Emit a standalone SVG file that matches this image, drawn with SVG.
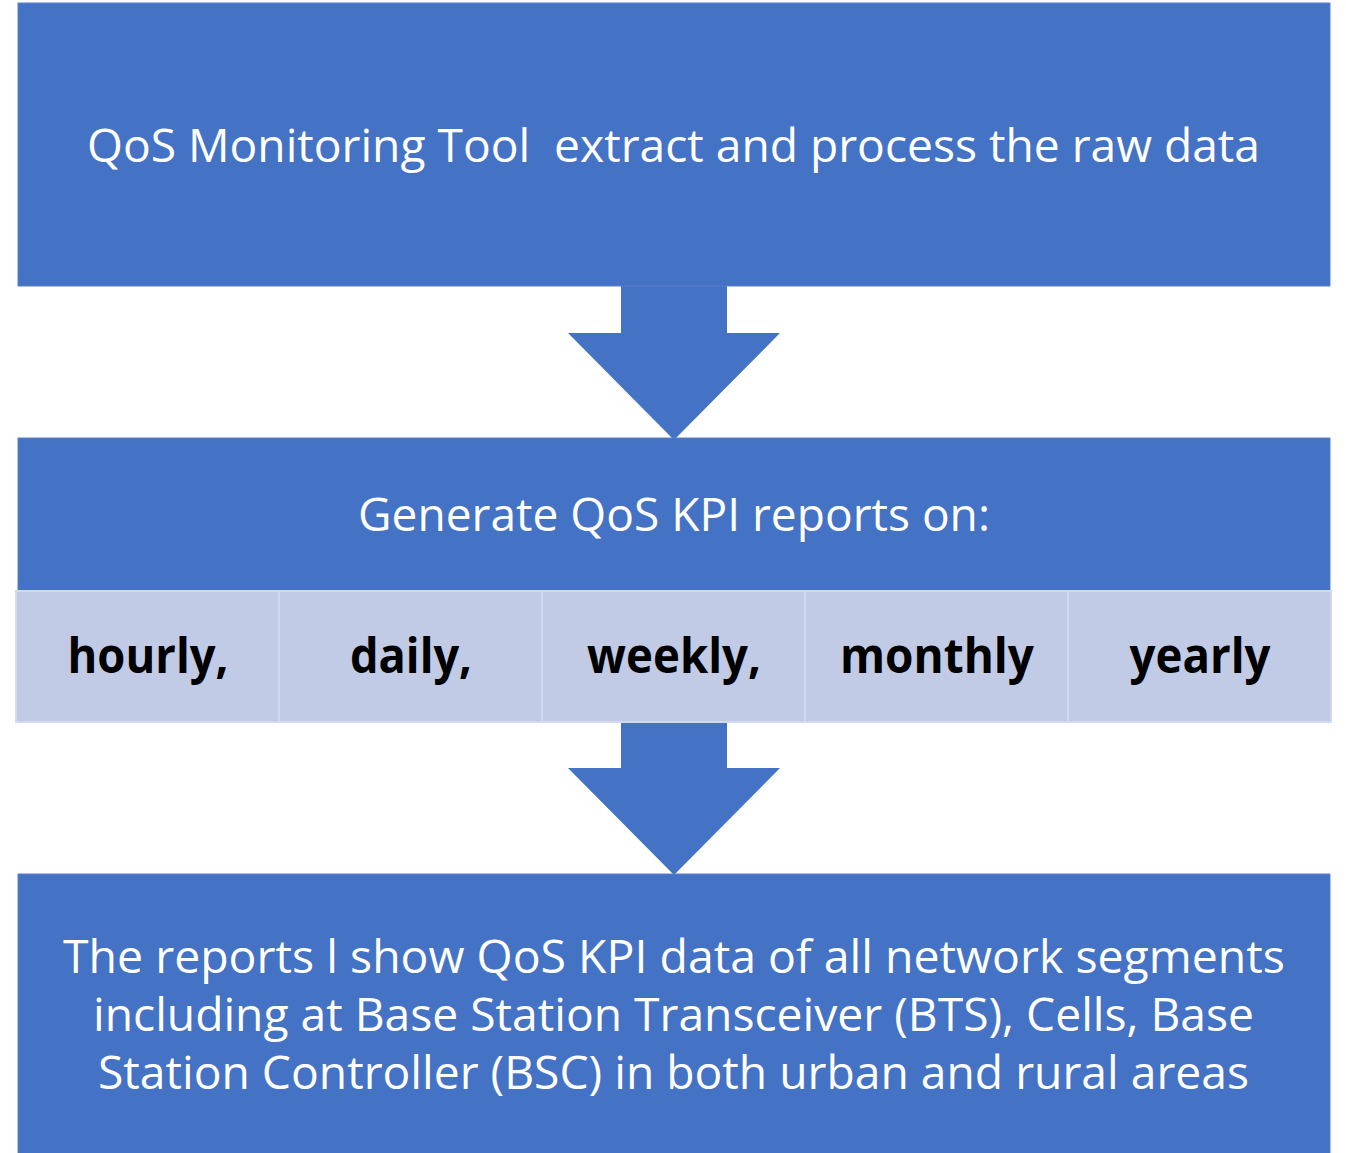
<svg xmlns="http://www.w3.org/2000/svg" width="1346" height="1153" viewBox="0 0 1346 1153">
<style>
.box{fill:#4472C4;stroke:#5B7FC8;stroke-width:1}
.cell{fill:#C1CBE5;stroke:#D2D9EE;stroke-width:2}
.arrow{fill:#4472C4}
.wt{fill:#FFFFFF;font-family:"Open Sans","Noto Sans",sans-serif;font-size:46px;white-space:pre}
.bt{fill:#000000;font-family:"Open Sans","Noto Sans",sans-serif;font-size:48px;font-weight:bold;text-anchor:middle}
</style>
<rect width="1346" height="1153" fill="#FFFFFF"/>
<g id="connectors">
<polygon class="arrow" points="621,286 727,286 727,333 780,333 674,440 568,333 621,333"/>
<polygon class="arrow" points="621,722 727,722 727,768 780,768 674,875 568,768 621,768"/>
</g>
<g id="node-extract">
<rect class="box" x="18" y="3" width="1312" height="283"/>
<text class="wt" x="87" y="162" textLength="1173" lengthAdjust="spacingAndGlyphs" xml:space="preserve">QoS Monitoring Tool  extract and process the raw data</text>
</g>
<g id="node-generate">
<rect class="box" x="18" y="438" width="1312" height="153"/>
<text class="wt" x="358" y="531" textLength="632" lengthAdjust="spacingAndGlyphs">Generate QoS KPI reports on:</text>
</g>
<g id="node-hourly">
<rect class="cell" x="16" y="591" width="263" height="131"/>
<text class="bt" x="148" y="673" textLength="161" lengthAdjust="spacingAndGlyphs">hourly,</text>
</g>
<g id="node-daily">
<rect class="cell" x="279" y="591" width="263" height="131"/>
<text class="bt" x="411" y="673" textLength="122" lengthAdjust="spacingAndGlyphs">daily,</text>
</g>
<g id="node-weekly">
<rect class="cell" x="542" y="591" width="263" height="131"/>
<text class="bt" x="674" y="673" textLength="174" lengthAdjust="spacingAndGlyphs">weekly,</text>
</g>
<g id="node-monthly">
<rect class="cell" x="805" y="591" width="263" height="131"/>
<text class="bt" x="937" y="673" textLength="194" lengthAdjust="spacingAndGlyphs">monthly</text>
</g>
<g id="node-yearly">
<rect class="cell" x="1068" y="591" width="263" height="131"/>
<text class="bt" x="1200" y="673" textLength="141" lengthAdjust="spacingAndGlyphs">yearly</text>
</g>
<g id="node-reports">
<rect class="box" x="18" y="874" width="1312" height="285"/>
<text class="wt" x="63" y="973" textLength="1222" lengthAdjust="spacingAndGlyphs">The reports l show QoS KPI data of all network segments</text>
<text class="wt" x="93" y="1031" textLength="1161" lengthAdjust="spacingAndGlyphs">including at Base Station Transceiver (BTS), Cells, Base</text>
<text class="wt" x="98" y="1089" textLength="1151" lengthAdjust="spacingAndGlyphs">Station Controller (BSC) in both urban and rural areas</text>
</g>
</svg>
